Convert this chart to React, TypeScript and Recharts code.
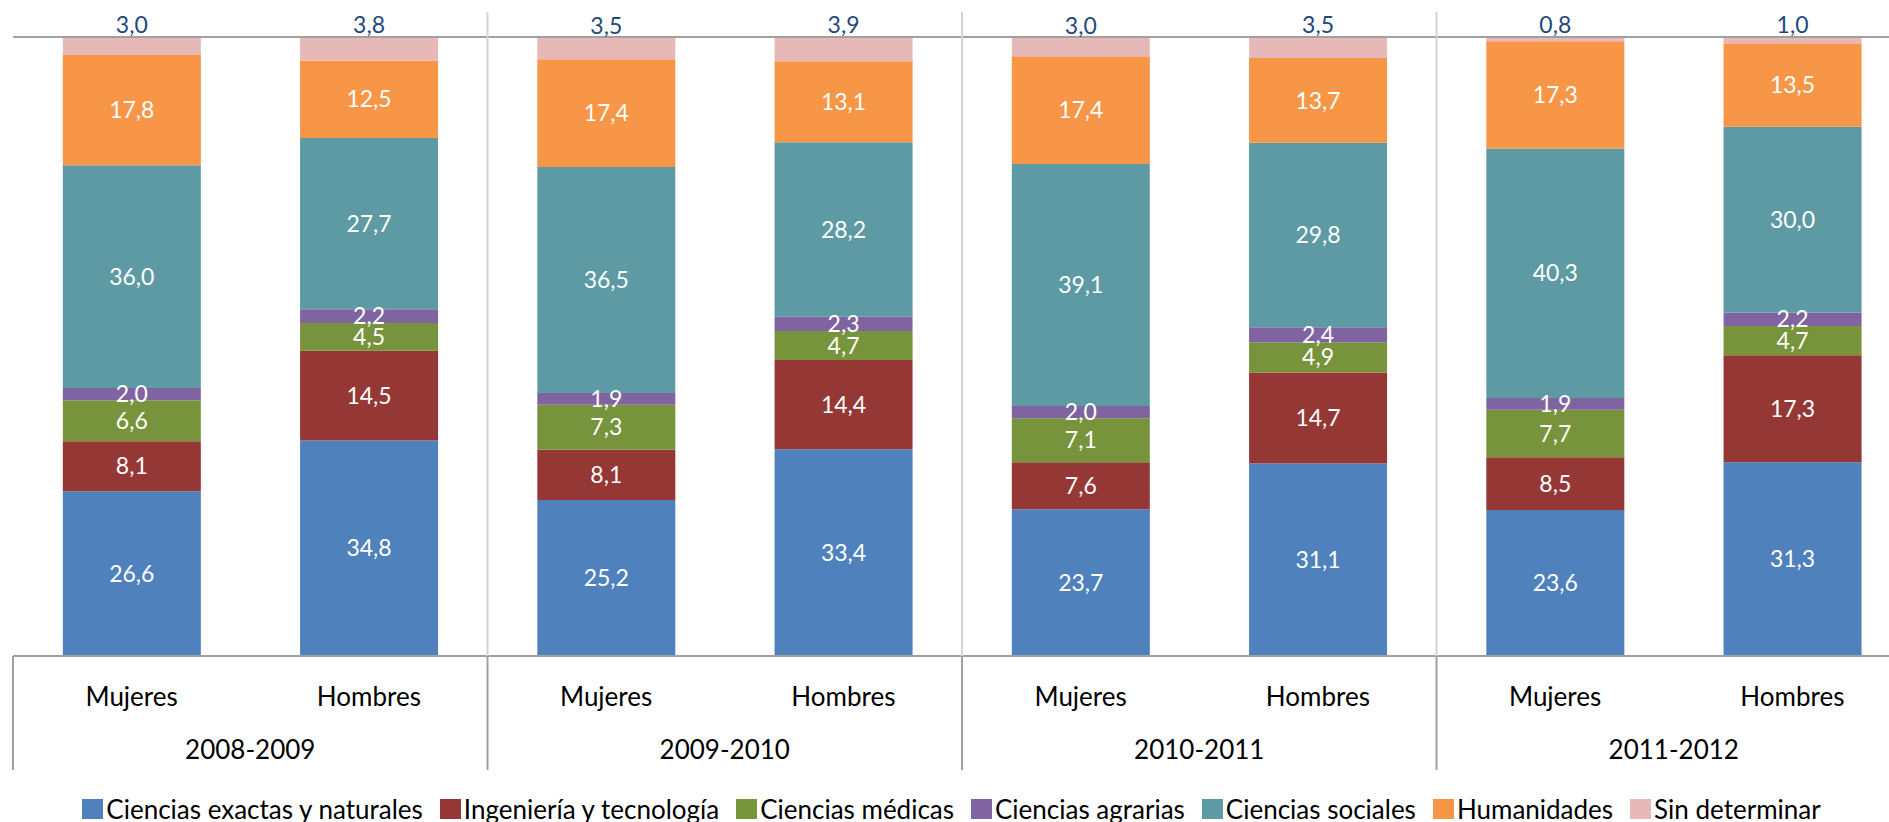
import React from 'react';
import { BarChart, Bar, XAxis, YAxis, CartesianGrid, Legend, LabelList, ReferenceLine } from 'recharts';

const periodos = ['2008-2009', '2009-2010', '2010-2011', '2011-2012'];
const sexos = ['Mujeres', 'Hombres'];

const exactas = [26.6, 34.8, 25.2, 33.4, 23.7, 31.1, 23.6, 31.3];
const ingenieria = [8.1, 14.5, 8.1, 14.4, 7.6, 14.7, 8.5, 17.3];
const medicas = [6.6, 4.5, 7.3, 4.7, 7.1, 4.9, 7.7, 4.7];
const agrarias = [2.0, 2.2, 1.9, 2.3, 2.0, 2.4, 1.9, 2.2];
const sociales = [36.0, 27.7, 36.5, 28.2, 39.1, 29.8, 40.3, 30.0];
const humanidades = [17.8, 12.5, 17.4, 13.1, 17.4, 13.7, 17.3, 13.5];
const sinDeterminar = [3.0, 3.8, 3.5, 3.9, 3.0, 3.5, 0.8, 1.0];

const yTicks = [0, 10, 20, 30, 40, 50, 60, 70, 80, 90, 100];

const series = [
  { key: 'exactas', name: 'Ciencias exactas y naturales', color: '#4F81BD', values: exactas },
  { key: 'ingenieria', name: 'Ingeniería y tecnología', color: '#953735', values: ingenieria },
  { key: 'medicas', name: 'Ciencias médicas', color: '#77933C', values: medicas },
  { key: 'agrarias', name: 'Ciencias agrarias', color: '#8064A2', values: agrarias },
  { key: 'sociales', name: 'Ciencias sociales', color: '#5D9AA4', values: sociales },
  { key: 'humanidades', name: 'Humanidades', color: '#F79646', values: humanidades },
  { key: 'sin', name: 'Sin determinar', color: '#E6B9B8', values: sinDeterminar },
];

const data = exactas.map((_, i) => {
  const row: Record<string, string | number> = {
    sexo: sexos[i % 2],
    periodo: periodos[Math.floor(i / 2)],
  };
  series.forEach((s) => {
    row[s.key] = s.values[i];
  });
  return row;
});

const W = 1920;
const H = 822;
const margin = { top: 37, right: 9, left: 13, bottom: 36 };
const band = (W - margin.left - margin.right) / data.length;
const plotH = 656 - margin.top;

const fmt = (v: any) => Number(v).toFixed(1).replace('.', ',');

const GroupTick = (props: any) => {
  const { x, y, payload, index } = props;
  const right = x + band / 2;
  const left = x - band / 2;
  return (
    <g>
      <text x={x} y={y + 40} textAnchor="middle" dominantBaseline="central" fill="#000" fontSize={26}>
        {payload.value}
      </text>
      {index === 0 && <line x1={left} x2={left} y1={y} y2={y + 114} stroke="#a0a0a0" strokeWidth={2} />}
      {index % 2 === 1 && (
        <g>
          <text x={left} y={y + 93} textAnchor="middle" dominantBaseline="central" fill="#000" fontSize={26}>
            {periodos[Math.floor(index / 2)]}
          </text>
          <line x1={right} x2={right} y1={y - plotH - 25} y2={y} stroke="#d4d4d4" strokeWidth={2} />
          <line x1={right} x2={right} y1={y} y2={y + 114} stroke="#a0a0a0" strokeWidth={2} />
        </g>
      )}
    </g>
  );
};

const LegendBox = () => (
  <div
    style={{
      display: 'flex',
      justifyContent: 'center',
      alignItems: 'center',
      height: 30,
      fontSize: 26,
      lineHeight: '30px',
      color: '#000',
    }}
  >
    {series.map((s) => (
      <div key={s.key} style={{ display: 'flex', alignItems: 'center', marginRight: 17 }}>
        <span style={{ width: 21, height: 20, background: s.color, display: 'inline-block', marginRight: 3 }} />
        <span>{s.name}</span>
      </div>
    ))}
  </div>
);

export default function App() {
  return (
    <div
      style={{
        position: 'fixed',
        left: 0,
        top: 0,
        width: 1889,
        height: 822,
        overflow: 'hidden',
        background: '#fff',
        fontFamily: 'Lato, sans-serif',
      }}
    >
      <BarChart width={W} height={H} data={data} margin={margin} barCategoryGap="21%">
        <CartesianGrid vertical={false} stroke="#dcdcdc" strokeWidth={2} />
        <YAxis
          type="number"
          domain={[0, 100]}
          ticks={yTicks}
          allowDataOverflow
          width={0}
          tick={false}
          tickLine={false}
          axisLine={{ stroke: '#a0a0a0', strokeWidth: 2 }}
        />
        <XAxis
          dataKey="sexo"
          interval={0}
          height={130}
          tickLine={false}
          tickSize={0}
          tickMargin={0}
          axisLine={{ stroke: '#a0a0a0', strokeWidth: 2 }}
          tick={<GroupTick />}
        />
        <ReferenceLine y={100} stroke="#a0a0a0" strokeWidth={2} />
        {series.map((s, i) => (
          <Bar key={s.key} dataKey={s.key} name={s.name} stackId="a" fill={s.color} isAnimationActive={false}>
            <LabelList
              dataKey={s.key}
              position={i === series.length - 1 ? 'top' : 'center'}
              offset={4}
              formatter={fmt}
              fill={i === series.length - 1 ? '#1F497D' : '#fff'}
              fontSize={23}
            />
          </Bar>
        ))}
        <Legend
          layout="horizontal"
          verticalAlign="middle"
          align="center"
          content={<LegendBox />}
          wrapperStyle={{ top: 794, left: 0, width: W, height: 30 }}
        />
      </BarChart>
    </div>
  );
}
